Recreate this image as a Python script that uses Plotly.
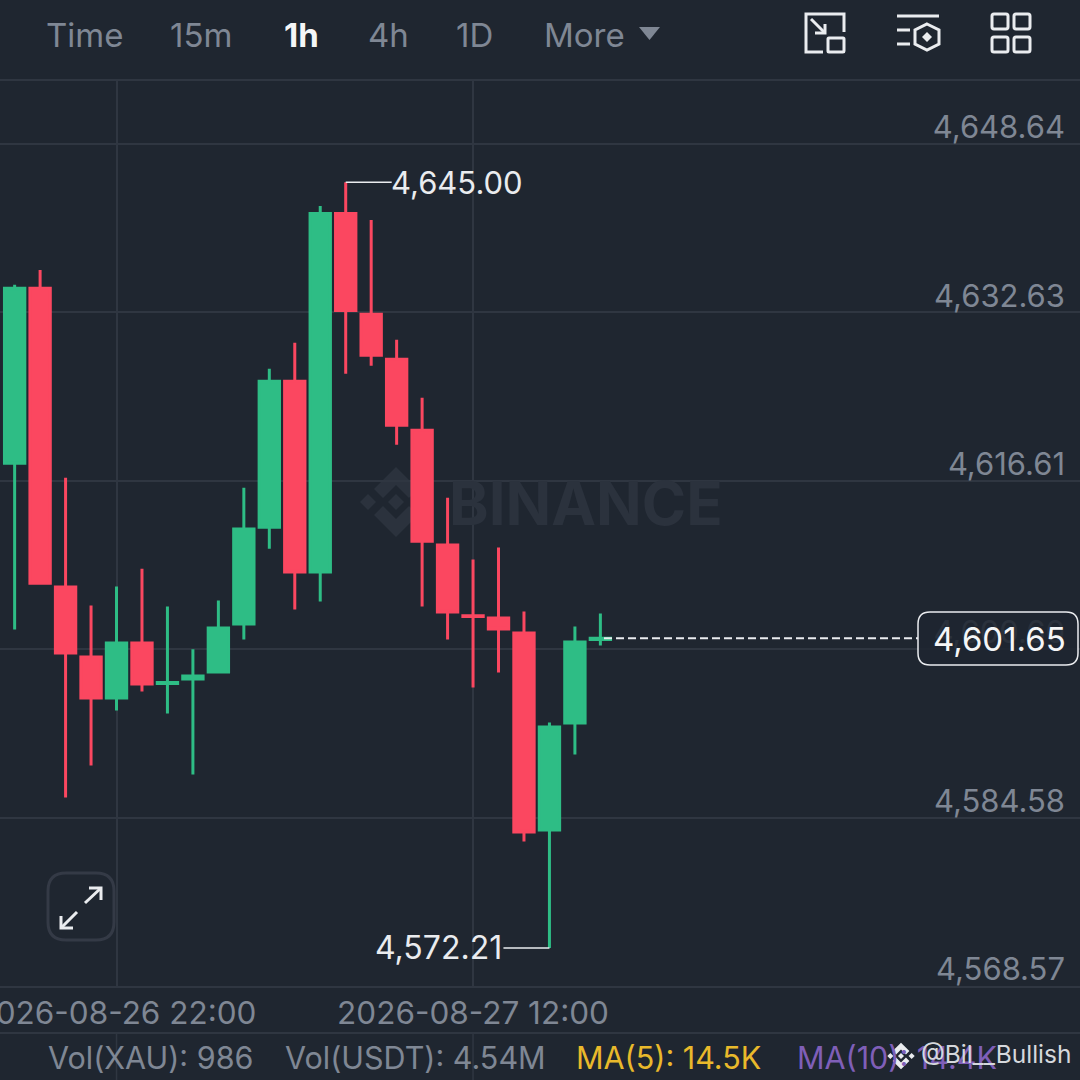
import plotly.graph_objects as go

# Candle data (1h candles)
times = ["2026-08-26 18:00", "2026-08-26 19:00", "2026-08-26 20:00", "2026-08-26 21:00",
         "2026-08-26 22:00", "2026-08-26 23:00", "2026-08-27 00:00", "2026-08-27 01:00",
         "2026-08-27 02:00", "2026-08-27 03:00", "2026-08-27 04:00", "2026-08-27 05:00",
         "2026-08-27 06:00", "2026-08-27 07:00", "2026-08-27 08:00", "2026-08-27 09:00",
         "2026-08-27 10:00", "2026-08-27 11:00", "2026-08-27 12:00", "2026-08-27 13:00",
         "2026-08-27 14:00", "2026-08-27 15:00", "2026-08-27 16:00", "2026-08-27 17:00"]
opens = [4618.29, 4634.92, 4606.52, 4599.87, 4595.97, 4601.20, 4597.36, 4597.78,
         4598.44, 4603.00, 4612.21, 4626.08, 4607.94, 4642.04, 4632.45, 4628.17,
         4621.43, 4610.51, 4603.80, 4603.57, 4602.15, 4583.43, 4593.60, 4601.53]
highs = [4635.25, 4636.67, 4616.92, 4604.76, 4606.56, 4608.27, 4604.66, 4600.60,
         4605.23, 4615.97, 4627.27, 4629.74, 4642.75, 4645.00, 4641.42, 4630.02,
         4624.51, 4615.02, 4609.13, 4610.27, 4604.19, 4593.65, 4602.76, 4604.00]
lows = [4602.48, 4606.75, 4586.52, 4589.56, 4594.79, 4596.59, 4594.50, 4588.71,
        4598.30, 4601.53, 4610.17, 4604.38, 4605.14, 4626.79, 4627.55, 4620.05,
        4604.66, 4601.53, 4596.97, 4598.40, 4582.34, 4572.21, 4590.61, 4600.96]
closes = [4634.92, 4606.89, 4600.24, 4595.97, 4601.20, 4597.30, 4597.45, 4598.07,
          4602.62, 4612.03, 4626.08, 4607.94, 4642.04, 4632.82, 4628.55, 4621.90,
          4610.88, 4604.14, 4603.71, 4602.52, 4583.24, 4593.22, 4601.29, 4601.65]

price_ticks = [4648.64, 4632.63, 4616.61, 4600.60, 4584.58, 4568.57]
price_labels = ["4,648.64", "4,632.63", "4,616.61", "4,600.60", "4,584.58", "4,568.57"]
time_ticks = ["2026-08-26 22:00", "2026-08-27 12:00"]
time_labels = ["2026-08-26 22:00", "2026-08-27 12:00"]

high_label = "4,645.00"
low_label = "4,572.21"
last_label = "4,601.65"
tabs = ["Time", "15m", "1h", "4h", "1D", "More"]
tab_left = [46, 170, 284, 368, 456, 544]
vol_texts = ["Vol(XAU): 986", "Vol(USDT): 4.54M", "MA(5): 14.5K", "MA(10): 14.4K"]
vol_left = [48, 285, 576, 797]
vol_colors = ["#7f8794", "#7f8794", "#e9b92b", "#7f5fb8"]

BG = "#1f2630"
GRID = "#2f3641"
GREY = "#7f8794"
WHITE = "#eaecef"
GREEN = "#2ebd85"
RED = "#fb4760"
FONT = "Inter"

PLOT_TOP, PLOT_BOTTOM = 80, 987


# screenshot pixels to paper coordinates
def px(x):
    return x / 1080


def py(y):
    return (PLOT_BOTTOM - y) / (PLOT_BOTTOM - PLOT_TOP)


def path(points, close=False):
    s = "M " + " L ".join(f"{px(x):.5f} {py(y):.5f}" for x, y in points)
    return s + (" Z" if close else "")


def round_rect(x0, y0, x1, y1, r):
    q = lambda a, b, c, d: f"Q {px(a):.5f} {py(b):.5f} {px(c):.5f} {py(d):.5f}"
    l = lambda a, b: f"L {px(a):.5f} {py(b):.5f}"
    return (f"M {px(x0 + r):.5f} {py(y0):.5f} " + " ".join([
        l(x1 - r, y0), q(x1, y0, x1, y0 + r), l(x1, y1 - r), q(x1, y1, x1 - r, y1),
        l(x0 + r, y1), q(x0, y1, x0, y1 - r), l(x0, y0 + r), q(x0, y0, x0 + r, y0)]) + " Z")


shapes = []


def stroke(d, color=WHITE, width=3, fill=None, layer="above"):
    s = dict(type="path", path=d, xref="paper", yref="paper", layer=layer,
             line=dict(color=color, width=width))
    if fill:
        s["fillcolor"] = fill
    shapes.append(s)


def solid(d, color, layer="above"):
    shapes.append(dict(type="path", path=d, xref="paper", yref="paper", layer=layer,
                       fillcolor=color, line=dict(width=0)))


def logo(cx, cy, k, color, layer="above"):
    # binance mark: 4 small diamonds and the two chevrons
    for dx, dy in [(0, 0), (-28, 0), (28, 0)]:
        solid(path([(cx + (dx + a) * k, cy + (dy + b) * k) for a, b in [(0, -8), (8, 0), (0, 8), (-8, 0)]], True), color, layer)
    for sign in (-1, 1):
        pts = [(0, -35), (22, -13), (13, -4), (0, -17), (-13, -4), (-22, -13)]
        solid(path([(cx + a * k, cy + sign * b * k) for a, b in pts], True), color, layer)


def text(x, y, s, size, color=GREY, anchor="left", weight=None):
    f = dict(family=FONT, size=size, color=color)
    if weight:
        f["weight"] = weight
    annotations.append(dict(x=px(x), y=py(y), xref="paper", yref="paper", text=s, showarrow=False,
                            xanchor=anchor, yanchor="middle", font=f, borderpad=0, borderwidth=0))


annotations = []

# frame lines
for y in [PLOT_TOP, PLOT_BOTTOM, 1033]:
    shapes.append(dict(type="line", xref="paper", yref="paper", x0=0, x1=1, y0=py(y), y1=py(y),
                       layer="below", line=dict(color=GRID, width=2)))
# vertical grid carries on through the volume strip
for t in time_ticks:
    shapes.append(dict(type="line", xref="x", yref="paper", x0=t, x1=t, y0=py(1033), y1=py(1080),
                       layer="below", line=dict(color=GRID, width=1.5)))

# watermark
logo(396, 502, 1, "#2b323d", layer="below")
text(449, 503, "BINANCE", 60, "#2b323d", weight=700)

# header
for name, x in zip(tabs, tab_left):
    active = name == "1h"
    text(x, 35, name, 33, "#f5f6f7" if active else GREY, weight=700 if active else 400)
solid(path([(639, 27), (660, 27), (649.5, 40)], True), GREY)

# header icons
stroke(path([(823, 52), (806, 52), (806, 14), (844, 14), (844, 32)]))
stroke(round_rect(828, 38, 844, 52, 1))
stroke(path([(811, 19), (825, 33)]))
stroke(path([(825, 24), (825, 33), (815, 33)]))
stroke(path([(897, 16), (939, 16)]))
stroke(path([(897, 30), (910, 30)]))
stroke(path([(897, 44), (910, 44)]))
stroke(path([(927, 24), (939, 30), (939, 44), (927, 50), (915, 44), (915, 30)], True))
solid(path([(927, 32), (932, 37), (927, 42), (922, 37)], True), WHITE)
for x0 in (992, 1014):
    for y0 in (14, 37):
        stroke(round_rect(x0, y0, x0 + 16, y0 + 15, 2))

# expand button
stroke(round_rect(48, 873, 114, 940, 18), color="#343a46")
stroke(path([(85, 903), (101, 888)]))
stroke(path([(89, 888), (101, 888), (101, 900)]))
stroke(path([(61, 928), (77, 912)]))
stroke(path([(61, 916), (61, 928), (73, 928)]))

# bottom strip
for s, x, c in zip(vol_texts, vol_left, vol_colors):
    text(x, 1057, s, 30.5, c)
logo(901, 1056, 0.38, WHITE)
text(921, 1054, "@Bil__Bullish", 24.5, "#d5d8dc")

# high / low markers, tied to the data
i_high = highs.index(max(highs))
i_low = lows.index(min(lows))
shapes.append(dict(type="line", xref="x", yref="y", xsizemode="pixel", xanchor=times[i_high],
                   x0=0, x1=46, y0=highs[i_high], y1=highs[i_high], line=dict(color=WHITE, width=1.5)))
shapes.append(dict(type="line", xref="x", yref="y", xsizemode="pixel", xanchor=times[i_low],
                   x0=-46, x1=0, y0=lows[i_low], y1=lows[i_low], line=dict(color=WHITE, width=1.5)))
annotations.append(dict(x=times[i_high], y=highs[i_high], xref="x", yref="y", text=high_label, showarrow=False,
                        xanchor="left", yanchor="middle", xshift=43, font=dict(family=FONT, size=31, color=WHITE)))
annotations.append(dict(x=times[i_low], y=lows[i_low], xref="x", yref="y", text=low_label, showarrow=False,
                        xanchor="right", yanchor="middle", xshift=-45, font=dict(family=FONT, size=32, color=WHITE)))

# last price line and box
shapes.append(dict(type="line", xref="paper", yref="y", x0=px(604), x1=px(918), y0=closes[-1], y1=closes[-1],
                   line=dict(color=WHITE, width=2, dash="8px,4px")))
stroke(round_rect(918, 612, 1078, 665, 12), color=WHITE, width=1.5, fill="rgba(31,38,48,0.88)")
text(999, 639, last_label, 33, "#f5f6f7", anchor="center")

fig = go.Figure(go.Candlestick(
    x=times, open=opens, high=highs, low=lows, close=closes,
    increasing=dict(line=dict(color=GREEN, width=3), fillcolor=GREEN),
    decreasing=dict(line=dict(color=RED, width=3), fillcolor=RED),
    hoverinfo="skip",
))

fig.update_layout(
    width=1080, height=1080,
    margin=dict(l=0, r=0, t=PLOT_TOP, b=1080 - PLOT_BOTTOM, autoexpand=False),
    paper_bgcolor=BG, plot_bgcolor=BG,
    showlegend=False, boxgap=0.2, boxgroupgap=0,
    shapes=shapes, annotations=annotations,
    font=dict(family=FONT),
)
fig.update_xaxes(
    type="date", range=["2026-08-26 17:25:30", "2026-08-28 11:50:00"],
    rangeslider_visible=False, tickmode="array", tickvals=time_ticks, ticktext=time_labels,
    tickfont=dict(family=FONT, size=31.5, color=GREY), ticks="", ticklabelstandoff=4,
    ticklabeloverflow="allow",
    showgrid=True, gridcolor=GRID, gridwidth=1.5, zeroline=False, showline=False,
)
fig.update_yaxes(
    range=[4568.50, 4654.72], side="right", ticklabelposition="inside top",
    tickmode="array", tickvals=price_ticks, ticktext=price_labels,
    tickfont=dict(family=FONT, size=31, color=GREY), ticks="", ticklabelstandoff=12, ticklabelshift=5,
    ticklabeloverflow="allow",
    showgrid=True, gridcolor=GRID, gridwidth=2, zeroline=False, showline=False,
)

fig.write_html("out.html", post_script="document.body.style.margin='0';", config=dict(displayModeBar=False))
